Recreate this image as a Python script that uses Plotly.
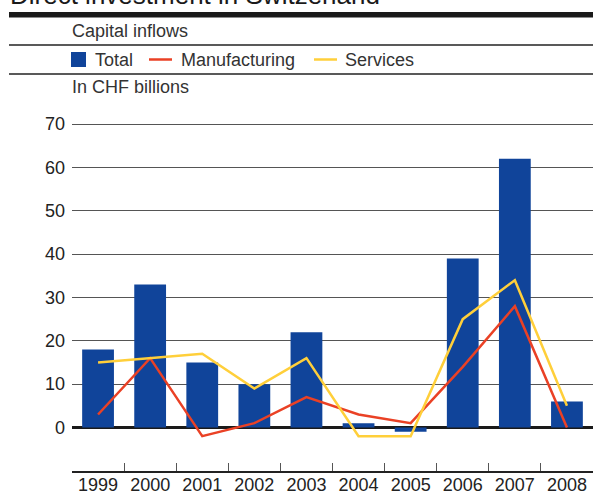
import plotly.graph_objects as go

years = ["1999", "2000", "2001", "2002", "2003", "2004", "2005", "2006", "2007", "2008"]
total = [18, 33, 15, 10, 22, 1, -1, 39, 62, 6]
manufacturing = [3, 16, -2, 1, 7, 3, 1, 14, 28, 0]
services = [15, 16, 17, 9, 16, -2, -2, 25, 34, 5]
y_ticks = [0, 10, 20, 30, 40, 50, 60, 70]

BLUE = "#10449A"
RED = "#EA4125"
YELLOW = "#FFCF3A"
FONT = "Liberation Sans, Arial, sans-serif"

W, H = 593, 495
L, R, T, B = 72, 0, 122, 24
PW, PH = W - L - R, H - T - B


def px(x):
    return (x - L) / PW


def py(y):
    return (H - B - y) / PH


fig = go.Figure()
fig.add_trace(go.Bar(x=years, y=total, marker=dict(color=BLUE, line=dict(width=0)),
                     name="Total", showlegend=False))
fig.add_trace(go.Scatter(x=years, y=manufacturing, mode="lines",
                         line=dict(color=RED, width=2.5), name="Manufacturing", showlegend=False))
fig.add_trace(go.Scatter(x=years, y=services, mode="lines",
                         line=dict(color=YELLOW, width=2.5), name="Services", showlegend=False))

shapes = [
    dict(type="rect", xref="paper", yref="paper", x0=px(9), x1=px(600), y0=py(17.5), y1=py(12),
         fillcolor="#1a1a1a", line=dict(width=0)),
    dict(type="line", xref="paper", yref="paper", x0=px(9), x1=px(600), y0=py(45), y1=py(45),
         line=dict(color="#222", width=1.3)),
    dict(type="line", xref="paper", yref="paper", x0=px(9), x1=px(600), y0=py(74), y1=py(74),
         line=dict(color="#222", width=1.3)),
    # legend swatches
    dict(type="rect", xref="paper", yref="paper", x0=px(71), x1=px(86), y0=py(67), y1=py(52),
         fillcolor=BLUE, line=dict(width=0)),
    dict(type="line", xref="paper", yref="paper", x0=px(149), x1=px(172), y0=py(59.5), y1=py(59.5),
         line=dict(color=RED, width=2.5)),
    dict(type="line", xref="paper", yref="paper", x0=px(314), x1=px(337), y0=py(59.5), y1=py(59.5),
         line=dict(color=YELLOW, width=2.5)),
]

txt = dict(color="#333", size=18, family=FONT)
annotations = [
    dict(text="Direct investment in Switzerland", xref="paper", yref="paper", x=px(8), y=py(-5),
         xanchor="left", yanchor="middle", showarrow=False,
         font=dict(color="#1a1a1a", size=26, family=FONT)),
    dict(text="Capital inflows", xref="paper", yref="paper", x=px(70), y=py(31.5),
         xanchor="left", yanchor="middle", showarrow=False, font=txt),
    dict(text="Total", xref="paper", yref="paper", x=px(93), y=py(60),
         xanchor="left", yanchor="middle", showarrow=False, font=txt),
    dict(text="Manufacturing", xref="paper", yref="paper", x=px(179), y=py(60),
         xanchor="left", yanchor="middle", showarrow=False, font=txt),
    dict(text="Services", xref="paper", yref="paper", x=px(343), y=py(60),
         xanchor="left", yanchor="middle", showarrow=False, font=txt),
    dict(text="In CHF billions", xref="paper", yref="paper", x=px(70), y=py(87),
         xanchor="left", yanchor="middle", showarrow=False, font=txt),
]

fig.update_layout(
    width=W, height=H,
    margin=dict(l=L, r=R, t=T, b=B, pad=0, autoexpand=False),
    paper_bgcolor="white", plot_bgcolor="white",
    bargap=0.39,
    shapes=shapes,
    annotations=annotations,
    font=dict(family=FONT, size=18, color="#222"),
    showlegend=False,
)
fig.update_xaxes(
    type="category", categoryorder="array", categoryarray=years,
    showgrid=False, showline=True, linecolor="#222", linewidth=1.5,
    ticks="inside", tickson="boundaries", ticklen=8, tickwidth=1.3, tickcolor="#555",
    tickfont=dict(size=18, color="#222", family=FONT),
    ticklabelstandoff=-3,
    fixedrange=True,
)
fig.update_yaxes(
    range=[-10.04, 70.5], tickvals=y_ticks, ticktext=[str(v) for v in y_ticks],
    showgrid=True, gridcolor="#555", gridwidth=1.3,
    zeroline=True, zerolinecolor="#1a1a1a", zerolinewidth=3,
    showline=False, ticks="",
    tickfont=dict(size=18, color="#222", family=FONT),
    ticklabelstandoff=6,
    fixedrange=True,
)

fig.write_html("out.html")
